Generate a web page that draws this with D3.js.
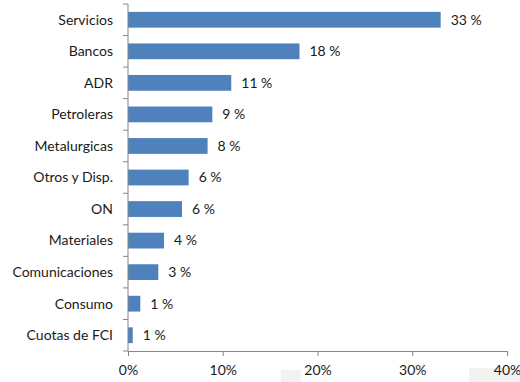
<!DOCTYPE html>
<html>
<head>
<meta charset="utf-8">
<script src="https://cdn.jsdelivr.net/npm/d3@7"></script>
<style>
  html, body { margin: 0; padding: 0; background: #ffffff; }
  svg { display: block; }
  text { font-family: Lato, "Open Sans", sans-serif; fill: #1a1a1a; }
</style>
</head>
<body>
<svg id="chart" width="520" height="382"></svg>
<script>
// Sector weights (%)
const categories = ["Servicios", "Bancos", "ADR", "Petroleras", "Metalurgicas",
  "Otros y Disp.", "ON", "Materiales", "Comunicaciones", "Consumo", "Cuotas de FCI"];
const weights = [33.0, 18.1, 10.9, 8.9, 8.4, 6.4, 5.7, 3.8, 3.2, 1.3, 0.5];
const xTicks = [0, 10, 20, 30, 40];

const svg = d3.select("#chart");
const plotLeft = 128, plotRight = 507, plotTop = 4, plotBottom = 351;

// faint background shapes near the bottom edge
svg.append("rect").attr("x", 281).attr("y", 370).attr("width", 20).attr("height", 12).attr("fill", "#f2f2f2");
svg.append("rect").attr("x", 469).attr("y", 368).attr("width", 51).attr("height", 14).attr("fill", "#f2f2f2");

const x = d3.scaleLinear().domain([0, 40]).range([plotLeft, plotRight]);
const y = d3.scaleBand().domain(categories).range([plotTop, plotBottom]).paddingInner(0.5).paddingOuter(0.25);

const axisColor = "#868686";

// bars
svg.append("g").selectAll("rect")
  .data(categories)
  .join("rect")
  .attr("x", x(0))
  .attr("y", d => y(d))
  .attr("width", (d, i) => x(weights[i]) - x(0))
  .attr("height", y.bandwidth())
  .attr("fill", "#4f81bd");

// value labels
svg.append("g").selectAll("text")
  .data(categories)
  .join("text")
  .attr("x", (d, i) => x(weights[i]) + 10)
  .attr("y", d => y(d) + y.bandwidth() / 2)
  .attr("dy", "0.35em")
  .attr("font-size", 14)
  .text((d, i) => Math.round(weights[i]) + " %");

// x axis
const xAxis = d3.axisBottom(x).tickValues(xTicks).tickFormat(d => d + "%").tickSize(5).tickPadding(9);
const gx = svg.append("g").attr("transform", `translate(0,${plotBottom})`).call(xAxis);
gx.select(".domain").attr("stroke", axisColor);
gx.selectAll(".tick line").attr("stroke", axisColor);
gx.selectAll(".tick text").attr("font-size", 14).attr("font-family", "Lato, sans-serif").attr("fill", "#1a1a1a");

// y axis: line with ticks at category boundaries
const step = y.step();
const bounds = d3.range(categories.length + 1).map(i => plotTop + i * step);
const gy = svg.append("g");
gy.append("line").attr("x1", plotLeft).attr("x2", plotLeft).attr("y1", plotTop).attr("y2", plotBottom).attr("stroke", axisColor);
gy.selectAll("line.tk").data(bounds).join("line").attr("class", "tk")
  .attr("x1", plotLeft - 5).attr("x2", plotLeft).attr("y1", d => d).attr("y2", d => d).attr("stroke", axisColor);
gy.selectAll("text").data(categories).join("text")
  .attr("x", plotLeft - 15)
  .attr("y", d => y(d) + y.bandwidth() / 2)
  .attr("dy", "0.35em")
  .attr("text-anchor", "end")
  .attr("font-size", 14)
  .text(d => d);
</script>
</body>
</html>
